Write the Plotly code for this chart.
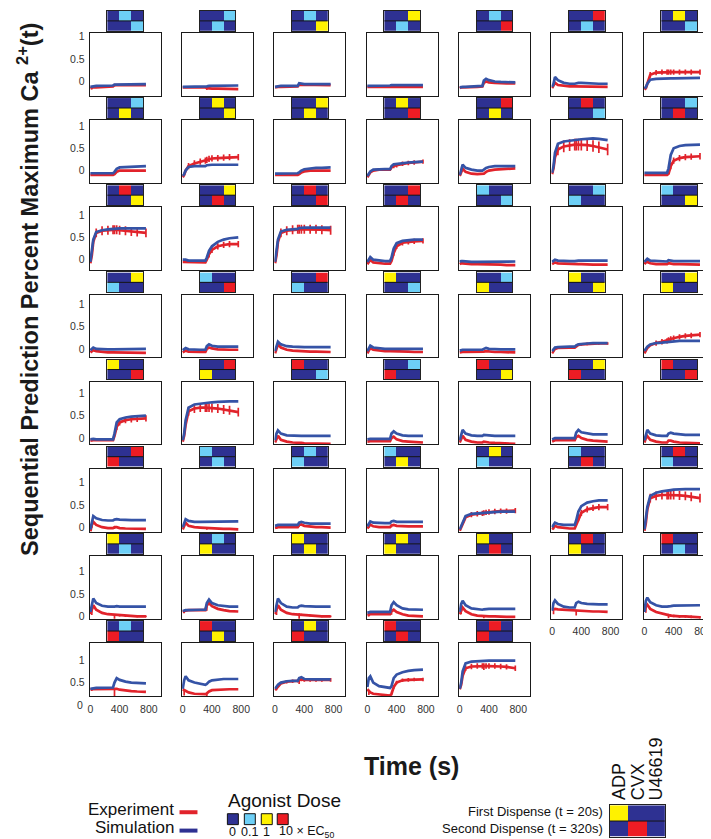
import plotly.graph_objects as go

W, H = 711, 839

# ---------------- data ----------------
T = [0, 20, 40, 80, 160, 240, 310, 330, 360, 400, 480, 560, 640, 760]
AGONISTS = ["ADP", "CVX", "U46619"]
DOSE_TEXT = ["0", "0.1", "1", "10 × EC<sub>50</sub>"]   # dose levels 0..3

# first / second dispense for each of the 54 panels (agonist index, dose level)
FIRST_AG = [1, 2, 1, 2, 1, 2, 1, 2, 1, 2, 1, 2, 1, 2, 1, 2, 1, 2,
            0, 2, 0, 2, 0, 2, 0, 2, 0, 2, 0, 2, 0, 2, 0, 2, 0, 2,
            0, 1, 0, 1, 0, 1, 0, 1, 0, 1, 0, 1, 0, 1, 0, 1, 0, 1]
FIRST_DOSE = [1, 1, 1, 2, 1, 3, 2, 1, 2, 2, 2, 3, 3, 1, 3, 2, 3, 3,
              1, 1, 1, 2, 1, 3, 2, 1, 2, 2, 2, 3, 3, 1, 3, 2, 3, 3,
              1, 1, 1, 2, 1, 3, 2, 1, 2, 2, 2, 3, 3, 1, 3, 2, 3, 3]
SECOND_AG = [2, 1, 2, 1, 2, 1, 2, 1, 2, 1, 2, 1, 2, 1, 2, 1, 2, 1,
             2, 0, 2, 0, 2, 0, 2, 0, 2, 0, 2, 0, 2, 0, 2, 0, 2, 0,
             1, 0, 1, 0, 1, 0, 1, 0, 1, 0, 1, 0, 1, 0, 1, 0, 1, 0]
SECOND_DOSE = [1, 1, 2, 1, 3, 1, 1, 2, 2, 2, 3, 2, 1, 3, 2, 3, 3, 3,
               1, 1, 2, 1, 3, 1, 1, 2, 2, 2, 3, 2, 1, 3, 2, 3, 3, 3,
               1, 1, 2, 1, 3, 1, 1, 2, 2, 2, 3, 2, 1, 3, 2, 3, 3, 3]

SIM = [
    [-0.12,-0.11,-0.11,-0.10,-0.10,-0.09,-0.09,-0.07,-0.07,-0.07,-0.07,-0.07,-0.06,-0.06],
    [-0.12,-0.12,-0.12,-0.12,-0.12,-0.12,-0.12,-0.11,-0.10,-0.10,-0.10,-0.09,-0.09,-0.09],
    [-0.12,-0.11,-0.11,-0.10,-0.10,-0.10,-0.10,-0.04,-0.05,-0.06,-0.06,-0.06,-0.06,-0.06],
    [-0.10,-0.10,-0.09,-0.09,-0.09,-0.09,-0.09,-0.08,-0.08,-0.08,-0.08,-0.08,-0.08,-0.08],
    [-0.13,-0.12,-0.12,-0.12,-0.11,-0.11,-0.10,0.02,0.06,0.03,0.00,-0.01,-0.02,-0.02],
    [-0.12,-0.05,0.10,0.03,-0.03,-0.05,-0.05,-0.04,-0.03,-0.03,-0.04,-0.04,-0.05,-0.05],
    [-0.15,-0.13,-0.05,0.04,0.06,0.07,0.07,0.07,0.07,0.07,0.07,0.08,0.08,0.08],
    [-0.06,-0.06,-0.06,-0.06,-0.06,-0.06,-0.06,-0.03,0.04,0.07,0.08,0.09,0.09,0.10],
    [-0.12,-0.08,0.00,0.08,0.10,0.10,0.10,0.12,0.13,0.13,0.13,0.13,0.13,0.13],
    [-0.07,-0.07,-0.06,-0.06,-0.06,-0.06,-0.06,-0.04,0.00,0.03,0.05,0.06,0.06,0.07],
    [-0.12,-0.08,-0.02,0.02,0.03,0.03,0.03,0.10,0.14,0.15,0.17,0.18,0.19,0.20],
    [-0.10,0.00,0.13,0.06,0.02,0.00,0.00,0.02,0.06,0.08,0.10,0.10,0.10,0.10],
    [-0.05,0.10,0.40,0.60,0.65,0.67,0.68,0.69,0.69,0.70,0.71,0.72,0.71,0.68],
    [-0.05,-0.05,-0.05,-0.05,-0.05,-0.05,-0.05,0.05,0.35,0.50,0.55,0.57,0.58,0.58],
    [-0.05,0.15,0.45,0.62,0.66,0.68,0.69,0.70,0.70,0.70,0.70,0.70,0.70,0.70],
    [0.00,0.00,0.00,-0.02,-0.02,-0.02,-0.02,0.05,0.20,0.30,0.40,0.45,0.48,0.50],
    [-0.05,0.15,0.45,0.63,0.67,0.68,0.69,0.71,0.72,0.72,0.72,0.72,0.72,0.72],
    [-0.05,0.02,0.06,0.00,-0.02,-0.03,-0.03,0.05,0.25,0.37,0.42,0.44,0.45,0.45],
    [-0.05,-0.03,-0.03,-0.04,-0.05,-0.05,-0.05,-0.04,-0.04,-0.04,-0.04,-0.04,-0.04,-0.04],
    [-0.05,-0.02,0.00,-0.02,-0.03,-0.03,-0.03,-0.02,-0.02,-0.02,-0.02,-0.02,-0.02,-0.02],
    [-0.05,0.00,0.02,-0.02,-0.03,-0.04,-0.04,-0.01,-0.02,-0.03,-0.03,-0.03,-0.03,-0.03],
    [-0.03,0.00,0.03,0.00,-0.01,-0.01,-0.01,-0.01,0.00,0.00,0.00,0.00,0.00,0.00],
    [-0.03,0.00,0.02,-0.01,-0.02,-0.02,-0.02,0.06,0.10,0.07,0.05,0.05,0.05,0.05],
    [-0.05,0.05,0.16,0.10,0.06,0.05,0.04,0.04,0.04,0.04,0.04,0.04,0.04,0.04],
    [-0.05,0.02,0.07,0.03,0.01,0.00,0.00,0.00,0.00,0.00,0.00,0.00,0.00,0.00],
    [-0.04,-0.03,-0.02,-0.02,-0.02,-0.02,-0.02,0.00,0.02,0.00,-0.01,-0.01,-0.01,-0.01],
    [-0.05,0.00,0.03,0.04,0.05,0.05,0.05,0.08,0.10,0.11,0.12,0.13,0.13,0.13],
    [-0.05,0.00,0.05,0.10,0.13,0.14,0.15,0.16,0.17,0.17,0.18,0.18,0.18,0.18],
    [-0.03,-0.02,-0.02,-0.03,-0.03,-0.03,-0.03,0.10,0.35,0.42,0.46,0.48,0.49,0.50],
    [-0.05,0.10,0.40,0.68,0.75,0.77,0.78,0.79,0.80,0.80,0.81,0.82,0.82,0.82],
    [-0.05,0.10,0.17,0.10,0.06,0.05,0.05,0.05,0.05,0.05,0.05,0.05,0.05,0.05],
    [-0.03,-0.02,-0.02,-0.02,-0.02,-0.02,-0.02,0.10,0.15,0.10,0.06,0.05,0.05,0.05],
    [-0.05,0.10,0.18,0.10,0.06,0.05,0.05,0.07,0.07,0.06,0.05,0.05,0.05,0.05],
    [-0.03,-0.01,0.00,0.00,0.00,0.00,0.00,0.12,0.18,0.13,0.10,0.08,0.08,0.08],
    [-0.05,0.10,0.18,0.10,0.06,0.05,0.05,0.10,0.12,0.10,0.08,0.07,0.07,0.07],
    [-0.05,0.12,0.25,0.20,0.16,0.15,0.15,0.17,0.18,0.17,0.16,0.16,0.16,0.16],
    [0.00,0.10,0.18,0.14,0.12,0.12,0.12,0.12,0.13,0.13,0.13,0.13,0.13,0.13],
    [0.03,0.04,0.05,0.05,0.05,0.05,0.05,0.10,0.12,0.10,0.08,0.08,0.08,0.08],
    [0.02,0.08,0.13,0.10,0.09,0.09,0.09,0.13,0.14,0.12,0.12,0.12,0.12,0.12],
    [-0.05,0.02,0.12,0.25,0.30,0.31,0.32,0.33,0.34,0.34,0.35,0.35,0.35,0.35],
    [0.00,0.06,0.10,0.07,0.05,0.05,0.05,0.15,0.35,0.47,0.55,0.58,0.60,0.60],
    [-0.05,0.15,0.45,0.70,0.77,0.80,0.81,0.82,0.83,0.84,0.85,0.85,0.85,0.85],
    [0.10,0.30,0.40,0.30,0.24,0.22,0.21,0.22,0.23,0.22,0.22,0.22,0.22,0.22],
    [0.12,0.13,0.14,0.14,0.15,0.15,0.15,0.30,0.38,0.30,0.25,0.23,0.22,0.22],
    [0.10,0.30,0.40,0.30,0.22,0.20,0.20,0.23,0.24,0.23,0.22,0.22,0.22,0.22],
    [0.08,0.09,0.10,0.10,0.10,0.10,0.10,0.25,0.32,0.25,0.18,0.16,0.15,0.15],
    [0.10,0.28,0.35,0.25,0.18,0.16,0.15,0.16,0.17,0.17,0.17,0.17,0.17,0.17],
    [0.13,0.30,0.36,0.28,0.22,0.20,0.20,0.30,0.33,0.30,0.28,0.27,0.27,0.27],
    [0.10,0.35,0.42,0.32,0.25,0.22,0.22,0.22,0.23,0.24,0.24,0.24,0.25,0.25],
    [0.36,0.37,0.37,0.38,0.38,0.39,0.39,0.50,0.60,0.56,0.52,0.50,0.49,0.48],
    [0.36,0.55,0.64,0.55,0.50,0.47,0.45,0.47,0.52,0.55,0.57,0.58,0.58,0.58],
    [0.36,0.40,0.45,0.50,0.53,0.54,0.54,0.60,0.62,0.58,0.57,0.57,0.57,0.57],
    [0.40,0.60,0.64,0.50,0.42,0.39,0.38,0.42,0.60,0.68,0.73,0.76,0.78,0.79],
    [0.36,0.50,0.75,0.93,0.97,0.98,0.99,0.99,0.99,0.99,0.99,0.99,0.99,0.99],
]

EXP = [
    [-0.15,-0.14,-0.13,-0.13,-0.12,-0.11,-0.11,-0.08,-0.08,-0.08,-0.08,-0.08,-0.08,-0.08],
    [-0.13,-0.13,-0.13,-0.13,-0.13,-0.13,-0.13,-0.15,-0.16,-0.16,-0.16,-0.16,-0.16,-0.17],
    [-0.13,-0.12,-0.12,-0.12,-0.12,-0.11,-0.11,-0.07,-0.07,-0.08,-0.08,-0.08,-0.08,-0.08],
    [-0.12,-0.12,-0.11,-0.11,-0.11,-0.11,-0.11,-0.12,-0.12,-0.12,-0.12,-0.12,-0.12,-0.12],
    [-0.15,-0.13,-0.13,-0.13,-0.12,-0.12,-0.11,-0.03,0.00,-0.02,-0.03,-0.04,-0.04,-0.04],
    [-0.15,-0.08,-0.03,-0.08,-0.10,-0.11,-0.11,-0.11,-0.11,-0.11,-0.12,-0.12,-0.12,-0.12],
    [-0.18,-0.15,-0.05,0.15,0.20,0.21,0.21,0.21,0.21,0.21,0.21,0.21,0.21,0.21],
    [-0.10,-0.10,-0.10,-0.10,-0.10,-0.10,-0.10,-0.08,-0.03,0.00,0.00,0.01,0.01,0.00],
    [-0.15,-0.10,0.00,0.10,0.16,0.20,0.22,0.24,0.26,0.27,0.28,0.29,0.30,0.30],
    [-0.10,-0.10,-0.10,-0.10,-0.10,-0.10,-0.10,-0.08,-0.04,-0.02,0.00,0.00,0.00,0.00],
    [-0.15,-0.10,-0.04,0.00,0.02,0.02,0.02,0.07,0.10,0.12,0.15,0.17,0.18,0.20],
    [-0.12,-0.05,0.04,-0.03,-0.07,-0.08,-0.08,-0.07,-0.03,0.00,0.02,0.03,0.04,0.05],
    [-0.08,0.05,0.30,0.47,0.54,0.57,0.58,0.58,0.58,0.58,0.57,0.55,0.52,0.47],
    [-0.10,-0.10,-0.10,-0.10,-0.10,-0.10,-0.10,-0.07,0.10,0.22,0.28,0.30,0.31,0.32],
    [-0.08,0.10,0.40,0.60,0.65,0.66,0.67,0.67,0.67,0.66,0.65,0.63,0.62,0.60],
    [-0.05,-0.05,-0.06,-0.06,-0.06,-0.06,-0.06,0.00,0.12,0.22,0.30,0.33,0.35,0.35],
    [-0.08,0.10,0.40,0.60,0.65,0.67,0.68,0.68,0.68,0.68,0.68,0.68,0.67,0.66],
    [-0.10,-0.05,0.00,-0.06,-0.08,-0.09,-0.09,-0.03,0.15,0.30,0.38,0.40,0.41,0.42],
    [-0.10,-0.08,-0.08,-0.09,-0.10,-0.10,-0.10,-0.10,-0.10,-0.10,-0.11,-0.11,-0.12,-0.12],
    [-0.10,-0.07,-0.06,-0.08,-0.09,-0.10,-0.10,-0.10,-0.10,-0.10,-0.11,-0.11,-0.11,-0.11],
    [-0.10,-0.06,-0.05,-0.08,-0.10,-0.10,-0.10,-0.08,-0.09,-0.10,-0.10,-0.10,-0.11,-0.11],
    [-0.08,-0.05,-0.03,-0.05,-0.07,-0.08,-0.08,-0.08,-0.08,-0.08,-0.09,-0.09,-0.09,-0.09],
    [-0.08,-0.05,-0.04,-0.06,-0.07,-0.07,-0.07,0.00,0.03,0.01,-0.01,-0.02,-0.02,-0.02],
    [-0.10,0.00,0.10,0.03,-0.02,-0.04,-0.05,-0.05,-0.05,-0.05,-0.06,-0.06,-0.07,-0.07],
    [-0.10,-0.02,0.02,-0.02,-0.04,-0.05,-0.05,-0.05,-0.06,-0.06,-0.06,-0.06,-0.07,-0.07],
    [-0.08,-0.07,-0.07,-0.07,-0.07,-0.07,-0.07,-0.06,-0.05,-0.06,-0.07,-0.07,-0.08,-0.08],
    [-0.10,-0.04,0.00,0.02,0.03,0.03,0.03,0.06,0.09,0.10,0.11,0.12,0.12,0.12],
    [-0.10,-0.05,0.02,0.08,0.13,0.16,0.18,0.20,0.22,0.24,0.27,0.29,0.30,0.32],
    [-0.06,-0.05,-0.05,-0.05,-0.05,-0.05,-0.05,0.05,0.25,0.35,0.40,0.42,0.43,0.44],
    [-0.08,0.05,0.30,0.60,0.66,0.68,0.68,0.68,0.68,0.67,0.66,0.64,0.62,0.58],
    [-0.10,0.00,0.05,-0.04,-0.08,-0.10,-0.10,-0.11,-0.11,-0.12,-0.12,-0.12,-0.13,-0.13],
    [-0.08,-0.07,-0.07,-0.07,-0.07,-0.07,-0.07,0.00,0.03,-0.03,-0.07,-0.08,-0.09,-0.10],
    [-0.10,0.00,0.05,-0.04,-0.08,-0.10,-0.10,-0.08,-0.09,-0.10,-0.11,-0.12,-0.12,-0.13],
    [-0.08,-0.06,-0.05,-0.05,-0.05,-0.05,-0.05,0.02,0.05,0.00,-0.04,-0.06,-0.07,-0.08],
    [-0.10,0.00,0.04,-0.04,-0.08,-0.10,-0.10,-0.06,-0.06,-0.08,-0.10,-0.11,-0.11,-0.12],
    [-0.10,0.05,0.12,0.05,0.00,-0.02,-0.02,0.00,0.00,-0.02,-0.03,-0.03,-0.04,-0.04],
    [-0.05,0.05,0.10,0.03,0.00,-0.01,-0.02,-0.02,-0.02,-0.03,-0.03,-0.04,-0.04,-0.05],
    [-0.02,-0.01,0.00,0.00,0.00,0.00,0.00,0.05,0.06,0.03,0.01,0.00,0.00,-0.01],
    [-0.03,0.03,0.06,0.02,0.00,0.00,0.00,0.04,0.05,0.03,0.02,0.02,0.02,0.02],
    [-0.08,0.00,0.10,0.22,0.28,0.30,0.31,0.32,0.33,0.34,0.35,0.36,0.36,0.37],
    [-0.05,0.00,0.03,0.00,-0.02,-0.03,-0.03,0.05,0.20,0.32,0.40,0.43,0.45,0.45],
    [-0.08,0.10,0.40,0.65,0.70,0.72,0.72,0.72,0.72,0.72,0.71,0.70,0.68,0.65],
    [0.05,0.15,0.25,0.15,0.08,0.05,0.04,0.03,0.03,0.02,0.01,0.01,0.00,0.00],
    [0.10,0.12,0.13,0.14,0.14,0.14,0.14,0.25,0.30,0.23,0.17,0.14,0.12,0.11],
    [0.05,0.15,0.25,0.15,0.08,0.05,0.04,0.05,0.04,0.03,0.02,0.01,0.00,0.00],
    [0.03,0.04,0.05,0.05,0.05,0.05,0.05,0.12,0.15,0.10,0.05,0.02,0.01,0.00],
    [0.05,0.15,0.20,0.12,0.05,0.02,0.01,0.01,0.00,0.00,0.00,-0.01,-0.01,-0.01],
    [0.16,0.17,0.17,0.16,0.15,0.14,0.13,0.14,0.14,0.13,0.12,0.11,0.11,0.10],
    [0.10,0.22,0.26,0.17,0.10,0.06,0.04,0.03,0.02,0.01,0.00,0.00,-0.01,-0.02],
    [0.35,0.35,0.35,0.36,0.36,0.36,0.36,0.36,0.36,0.34,0.32,0.31,0.30,0.29],
    [0.35,0.33,0.32,0.28,0.25,0.24,0.24,0.26,0.30,0.33,0.34,0.35,0.35,0.35],
    [0.33,0.37,0.42,0.48,0.52,0.53,0.54,0.56,0.57,0.56,0.56,0.56,0.56,0.56],
    [0.35,0.30,0.28,0.25,0.24,0.22,0.21,0.25,0.40,0.50,0.55,0.56,0.57,0.57],
    [0.35,0.45,0.65,0.82,0.86,0.87,0.87,0.87,0.87,0.87,0.87,0.86,0.85,0.82],
]

# half-height of the experiment error bars, and the time they start from
EXP_ERR = [0, 0, 0, 0, 0, 0, 0.06,
           0, 0.07, 0, 0.05, 0, 0.13, 0.07,
           0.10, 0.07, 0.10, 0.06, 0, 0, 0,
           0, 0, 0, 0, 0, 0.03, 0.06,
           0.07, 0.10, 0, 0, 0, 0, 0,
           0, 0, 0, 0, 0.06, 0.07, 0.10,
           0.02, 0, 0.02, 0, 0, 0, 0.03,
           0, 0, 0.04, 0.04, 0.06]
ERR_FROM = [0, 0, 0, 0, 0, 0, 80,
            0, 80, 0, 360, 0, 80, 360,
            80, 360, 80, 360, 0, 0, 0,
            0, 0, 0, 0, 0, 400, 160,
            360, 80, 0, 0, 0, 0, 0,
            0, 0, 0, 0, 160, 360, 80,
            330, 0, 330, 0, 0, 0, 330,
            0, 0, 160, 360, 80]

# downward dispense artefacts of the experiment trace (at t = 20 s and t = 330 s)
DIP_FIRST = [0.04, 0, 0, 0, 0, 0, 0,
             0, 0, 0, 0, 0, 0, 0,
             0, 0, 0, 0, 0, 0, 0,
             0, 0, 0, 0, 0, 0, 0,
             0, 0, 0, 0, 0, 0, 0,
             0.06, 0.05, 0.03, 0.05, 0, 0.05, 0,
             0.12, 0.05, 0.12, 0.04, 0.10, 0.12, 0.14,
             0.04, 0.12, 0.04, 0.08, 0.04]
DIP_SECOND = [0.03, 0.04, 0, 0, 0, 0, 0,
              0, 0, 0, 0, 0, 0, 0,
              0, 0, 0, 0, 0, 0, 0,
              0, 0, 0, 0, 0, 0, 0,
              0, 0, 0, 0, 0, 0, 0,
              0.04, 0.04, 0.04, 0.04, 0, 0, 0,
              0.10, 0.12, 0.10, 0.08, 0.05, 0.12, 0.04,
              0.16, 0.06, 0.05, 0.04, 0.03]

KEY_FIRST = [2, 0, 0]    # ADP 1x, CVX 0, U46619 0
KEY_SECOND = [0, 3, 0]   # CVX 10x

# ---------------- layout constants (pixels) ----------------
NCOL = 7
COL_X0, COL_PITCH, BOX_W = 80.0, 92.6, 71.0
ROW_Y0, ROW_PITCH = 22.3, 87.8
BOX_H, BOX_H_LAST = 63.0, 53.0
HM_W, HM_H, HM_GAP = 36.0, 20.0, 2.4
PX_PER_UNIT = 45.0
ONE_OFFSET = [3.7, 5.6, 7.6, 9.6, 11.6, 13.6, 15.7, 17.0]   # "1" tick below box top
X_RANGE = [-8, 960]

RED = "#e1232b"
BLUE = "#3553a6"
CELL = ["#2e3192", "#6dcff6", "#fff200", "#ed1c24"]
CSCALE = [[0, CELL[0]], [0.25, CELL[0]], [0.25, CELL[1]], [0.5, CELL[1]],
          [0.5, CELL[2]], [0.75, CELL[2]], [0.75, CELL[3]], [1, CELL[3]]]
FONT = "Liberation Sans, Arial, sans-serif"
TICKFONT = dict(family=FONT, size=10.5, color="#333")


def px(x):
    return x / W


def py(y):
    return 1 - y / H


def clamp(v):
    return max(0.0, min(1.0, v))


fig = go.Figure()
layout = {}
shapes = []
annotations = []
counter = [0]


def new_axes(xdom, ydom, xopts, yopts):
    counter[0] += 1
    k = counter[0]
    s = "" if k == 1 else str(k)
    layout["xaxis" + s] = dict(domain=[clamp(xdom[0]), clamp(xdom[1])], anchor="y" + s,
                               showgrid=False, zeroline=False, **xopts)
    layout["yaxis" + s] = dict(domain=[clamp(ydom[0]), clamp(ydom[1])], anchor="x" + s,
                               showgrid=False, zeroline=False, **yopts)
    return "x" + s, "y" + s


def add_dose_map(xa, ya, first, second):
    fig.add_trace(go.Heatmap(z=[first, second], x=[0, 1, 2], y=[0, 1],
                             zmin=-0.5, zmax=3.5, colorscale=CSCALE, showscale=False,
                             hoverinfo="skip", xaxis=xa, yaxis=ya))
    shapes.append(dict(type="line", xref=xa, yref=ya, x0=-0.5, x1=2.5, y0=0.5, y1=0.5,
                       line=dict(color="#151515", width=1)))


HM_X = dict(range=[-0.5, 2.5], showticklabels=False, ticks="", showline=True,
            mirror=True, linecolor="#222", linewidth=1, fixedrange=True)
HM_Y = dict(range=[1.5, -0.5], showticklabels=False, ticks="", showline=True,
            mirror=True, linecolor="#222", linewidth=1, fixedrange=True)

n_panels = len(SIM)
for p in range(n_panels):
    r, c = divmod(p, NCOL)
    x0 = COL_X0 + c * COL_PITCH
    x1 = x0 + BOX_W
    top = ROW_Y0 + r * ROW_PITCH
    h = BOX_H_LAST if r == 7 else BOX_H
    bottom = top + h
    ytop = 1 + ONE_OFFSET[r] / PX_PER_UNIT
    yrange = [ytop - h / PX_PER_UNIT, ytop]
    is_bottom = p + NCOL >= n_panels

    xopts = dict(range=X_RANGE, tickvals=[0, 400, 800], ticktext=["0", "400", "800"],
                 showticklabels=is_bottom, ticks="outside", ticklen=3,
                 tickcolor="rgba(0,0,0,0)", tickfont=TICKFONT,
                 showline=True, mirror=True, linecolor="#1a1a1a", linewidth=1)
    yopts = dict(range=yrange, tickvals=[0, 0.5, 1], ticktext=["0", "0.5", "1"],
                 showticklabels=(c == 0), ticks="outside", ticklen=2,
                 tickcolor="rgba(0,0,0,0)", tickfont=TICKFONT,
                 showline=True, mirror=True, linecolor="#1a1a1a", linewidth=1)
    xa, ya = new_axes([px(x0), px(x1)], [py(bottom), py(top)], xopts, yopts)

    up = [EXP_ERR[p] if (EXP_ERR[p] > 0 and t >= ERR_FROM[p]) else 0 for t in T]
    down = list(up)
    down[T.index(20)] += DIP_FIRST[p]
    down[T.index(330)] += DIP_SECOND[p]
    fig.add_trace(go.Scatter(x=T, y=EXP[p], mode="lines", line=dict(color=RED, width=2.7),
                             error_y=dict(type="data", symmetric=False, array=up,
                                          arrayminus=down, visible=True, color=RED,
                                          thickness=1.7, width=0),
                             hoverinfo="skip", xaxis=xa, yaxis=ya))
    fig.add_trace(go.Scatter(x=T, y=SIM[p], mode="lines", line=dict(color=BLUE, width=2.7),
                             hoverinfo="skip", xaxis=xa, yaxis=ya))

    # dose map above the panel
    cx = (x0 + x1) / 2
    hm_bot = top - HM_GAP
    hm_top = hm_bot - HM_H
    first = [0, 0, 0]
    second = [0, 0, 0]
    first[FIRST_AG[p]] = FIRST_DOSE[p]
    second[SECOND_AG[p]] = SECOND_DOSE[p]
    hxa, hya = new_axes([px(cx - HM_W / 2), px(cx + HM_W / 2)], [py(hm_bot), py(hm_top)],
                        HM_X, HM_Y)
    add_dose_map(hxa, hya, first, second)

# the "0" label of the last row's y axis sits below the frame
annotations.append(dict(x=px(75), y=py(699), xref="paper", yref="paper", text="0",
                        showarrow=False, xanchor="right", yanchor="middle",
                        font=TICKFONT))

# ---------------- key (bottom right) ----------------
kxa, kya = new_axes([px(601.7), px(656.7)], [py(831.7), py(800)], HM_X, HM_Y)
add_dose_map(kxa, kya, KEY_FIRST, KEY_SECOND)
for i, name in enumerate(AGONISTS):
    annotations.append(dict(x=i, xref=kxa, y=py(797), yref="paper", text=name,
                            textangle=-90, showarrow=False, xanchor="center",
                            yanchor="bottom", font=dict(family=FONT, size=18, color="#111")))
annotations.append(dict(x=px(597), y=py(806.5), xref="paper", yref="paper",
                        text="First Dispense (t = 20s)", showarrow=False, xanchor="right",
                        yanchor="middle", font=dict(family=FONT, size=13, color="#111")))
annotations.append(dict(x=px(597), y=py(823), xref="paper", yref="paper",
                        text="Second Dispense (t = 320s)", showarrow=False, xanchor="right",
                        yanchor="middle", font=dict(family=FONT, size=13, color="#111")))

# ---------------- titles ----------------
annotations.append(dict(x=px(18), y=py(280), xref="paper", yref="paper",
                        text="<b>Sequential Prediction Percent Maximum Ca <sup>2+</sup>(t)</b>",
                        textangle=-90, showarrow=False, xanchor="center", yanchor="middle",
                        font=dict(family=FONT, size=23.5, color="#1a1a1a")))
annotations.append(dict(x=px(403), y=py(760), xref="paper", yref="paper",
                        text="<b>Time (s)</b>", showarrow=False, xanchor="center",
                        yanchor="middle", font=dict(family=FONT, size=25, color="#1a1a1a")))

# ---------------- legend ----------------
annotations.append(dict(x=px(166), y=py(804), xref="paper", yref="paper", text="Experiment",
                        showarrow=False, xanchor="right", yanchor="middle",
                        font=dict(family=FONT, size=17, color="#111")))
annotations.append(dict(x=px(166), y=py(822), xref="paper", yref="paper", text="Simulation",
                        showarrow=False, xanchor="right", yanchor="middle",
                        font=dict(family=FONT, size=17, color="#111")))
shapes.append(dict(type="line", xref="paper", yref="paper", x0=px(170), x1=px(188),
                   y0=py(807), y1=py(807), line=dict(color=RED, width=4)))
shapes.append(dict(type="line", xref="paper", yref="paper", x0=px(170), x1=px(188),
                   y0=py(825.5), y1=py(825.5), line=dict(color=CELL[0], width=4)))

annotations.append(dict(x=px(217), y=py(795), xref="paper", yref="paper", text="Agonist Dose",
                        showarrow=False, xanchor="left", yanchor="middle",
                        font=dict(family=FONT, size=19, color="#111")))
SQ_X = [223.5, 240.5, 257.5, 273.5]
for i, col in enumerate(CELL):
    shapes.append(dict(type="rect", xref="paper", yref="paper",
                       x0=px(SQ_X[i] - 5.5), x1=px(SQ_X[i] + 5.5), y0=py(819.5), y1=py(808.5),
                       fillcolor=col, line=dict(color="#111", width=1)))
for i, txt in enumerate(DOSE_TEXT):
    last = i == len(DOSE_TEXT) - 1
    annotations.append(dict(x=px(SQ_X[i] - 5.5) if last else px(SQ_X[i]), y=py(827),
                            xref="paper", yref="paper", text=txt, showarrow=False,
                            xanchor="left" if last else "center", yanchor="middle",
                            font=dict(family=FONT, size=12.5, color="#111")))

layout.update(dict(width=W, height=H, margin=dict(l=0, r=0, t=0, b=0),
                   paper_bgcolor="white", plot_bgcolor="rgba(0,0,0,0)",
                   showlegend=False, shapes=shapes, annotations=annotations))
fig.update_layout(**layout)
fig.write_html("out.html")
